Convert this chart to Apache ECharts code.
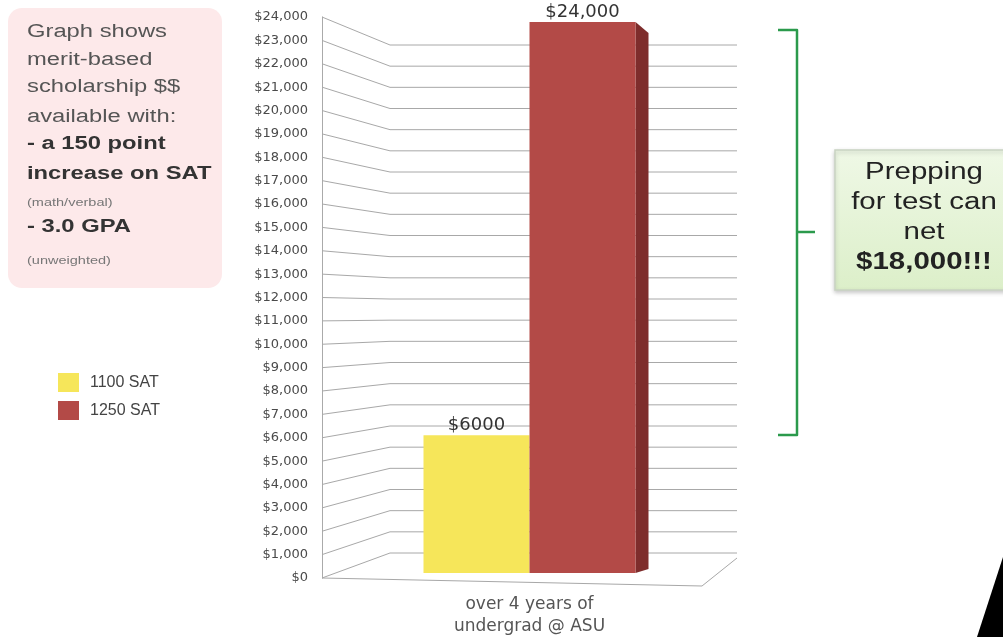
<!DOCTYPE html>
<html>
<head>
<meta charset="utf-8">
<script src="https://cdn.jsdelivr.net/npm/echarts@6/dist/echarts.min.js"></script>
<style>
html,body{margin:0;padding:0;background:#fff;}
#chart{width:1003px;height:637px;}
</style>
</head>
<body>
<div id="chart"></div>
<script>
// ---- data ----
const categories = ['over 4 years of\nundergrad @ ASU'];
const seriesNames = ['1100 SAT', '1250 SAT'];
const sat1100 = [6000];
const sat1250 = [24000];
const barLabels1100 = ['$6000'];
const barLabels1250 = ['$24,000'];
const yTicks = [0, 1000, 2000, 3000, 4000, 5000, 6000, 7000, 8000, 9000, 10000, 11000, 12000,
  13000, 14000, 15000, 16000, 17000, 18000, 19000, 20000, 21000, 22000, 23000, 24000];
const noteLines = [
  ['Graph shows', 'n'], ['merit-based', 'n'], ['scholarship $$', 'n'], ['available with:', 'n'],
  ['- a 150 point', 'b'], ['increase on SAT', 'b'], ['(math/verbal)', 's'], ['- 3.0 GPA', 'b'], ['(unweighted)', 's']
];
const calloutLines = ['Prepping', 'for test can', 'net', '$18,000!!!'];

// ---- styles ----
const YELLOW = '#f6e65a';
const RED = '#b34a47';
const RED_SIDE = '#7e2d2c';
const BAR_W = 106;
const SANS = '"Liberation Sans", Arial, sans-serif';
const WIDE = '"DejaVu Sans", sans-serif';

const chart = echarts.init(document.getElementById('chart'));

function backY(yF, cs) {
  // perspective back plane of the pseudo-3D chart
  const topB = cs.y + 28, botB = cs.y + cs.height - 25;
  return topB + (yF - cs.y) * (botB - topB) / cs.height;
}

const noteY = [32, 60, 87, 117, 144, 174, 203, 227, 261];
const noteGraphics = noteLines.map((l, i) => ({
  type: 'text', x: 27, y: noteY[i], scaleX: 1.32, z: 10,
  style: {
    text: l[0], textVerticalAlign: 'middle', textAlign: 'left',
    font: (l[1] === 'b' ? 'bold ' : '') + (l[1] === 's' ? '11px ' : '18px ') + SANS,
    fill: l[1] === 'b' ? '#333' : (l[1] === 's' ? '#777' : '#555')
  }
}));
const calloutY = [173, 203, 233, 263];
const calloutGraphics = calloutLines.map((t, i) => ({
  type: 'text', x: 924, y: calloutY[i], scaleX: 1.28, z: 10,
  style: {
    text: t, textVerticalAlign: 'middle', textAlign: 'center',
    font: (i === 3 ? 'bold ' : '') + '23px ' + SANS, fill: '#222'
  }
}));

const option = {
  animation: false,
  backgroundColor: '#fff',
  grid: [
    { left: 322, right: 266, top: 17, bottom: 59, containLabel: false, outerBoundsMode: 'none' },
    { left: 322, right: 266, top: 22, bottom: 64, containLabel: false, outerBoundsMode: 'none' }
  ],
  legend: {
    data: seriesNames, orient: 'vertical', left: 53, top: 368,
    itemWidth: 21, itemHeight: 19, itemGap: 9, icon: 'rect',
    textStyle: { fontSize: 16, color: '#444', fontFamily: SANS, padding: [0, 0, 0, 6] }
  },
  xAxis: [
    {
      type: 'category', data: categories, gridIndex: 0,
      axisLine: { show: false }, axisTick: { show: false },
      axisLabel: { fontSize: 17, color: '#555', fontFamily: WIDE, margin: 16, lineHeight: 22 }
    },
    {
      type: 'category', data: categories, gridIndex: 1, show: false
    }
  ],
  yAxis: [
    {
      type: 'value', min: 0, max: 24000, interval: 1000, gridIndex: 0,
      axisLine: { show: true, lineStyle: { color: '#aaa', width: 1 } },
      axisTick: { show: false },
      splitLine: { show: false },
      axisLabel: {
        fontSize: 13, color: '#4a4a4a', fontFamily: WIDE, margin: 14,
        formatter: v => '$' + v.toLocaleString('en-US')
      }
    },
    {
      type: 'value', min: 0, max: 24000, interval: 1000, gridIndex: 1, show: false,
      splitLine: { show: false }
    }
  ],
  graphic: [
    { type: 'rect', shape: { x: 8, y: 8, width: 214, height: 280, r: 14 },
      style: { fill: '#fde9ea' }, z: 5 },
    ...noteGraphics,
    { type: 'rect', shape: { x: 835, y: 150, width: 180, height: 140 },
      style: {
        fill: new echarts.graphic.LinearGradient(0, 0, 0, 1, [
          { offset: 0, color: '#eff8e6' }, { offset: 1, color: '#dcefc9' }]),
        stroke: '#c9d3c2', lineWidth: 1.5,
        shadowBlur: 4, shadowColor: 'rgba(0,0,0,0.2)', shadowOffsetY: 2
      }, z: 5 },
    ...calloutGraphics,
    { type: 'polyline', z: 5,
      shape: { points: [[778, 30], [797, 30], [797, 435], [778, 435]] },
      style: { stroke: '#2b9a4c', lineWidth: 2.5, fill: null, lineJoin: 'round' } },
    { type: 'line', z: 5, shape: { x1: 797, y1: 232, x2: 815, y2: 232 },
      style: { stroke: '#2b9a4c', lineWidth: 2.5 } },
    { type: 'polygon', z: 5, shape: { points: [[977, 637], [1003, 557], [1003, 637]] },
      style: { fill: '#000' } }
  ],
  series: [
    {
      type: 'custom', z: 1, silent: true, xAxisIndex: 0, yAxisIndex: 0,
      data: yTicks.map(v => [0, v]),
      renderItem: function (params, api) {
        const cs = params.coordSys;
        const p = api.coord([0, api.value(1)]);
        const yF = p[1];
        const yB = backY(yF, cs);
        const x0 = cs.x, xB = cs.x + 68, xE = cs.x + cs.width;
        const children = [{
          type: 'polyline',
          shape: { points: [[x0, yF], [xB, yB], [xE, yB]] },
          style: { stroke: '#a8a8a8', lineWidth: 1, fill: null }
        }];
        if (api.value(1) === 0) {
          children.push({
            type: 'polyline',
            shape: { points: [[x0, yF], [xE - 35, yF + 8], [xE, yB + 5]] },
            style: { stroke: '#a8a8a8', lineWidth: 1, fill: null }
          });
        }
        return { type: 'group', children: children };
      }
    },
    {
      name: seriesNames[0], type: 'bar', data: sat1100, barWidth: BAR_W, barGap: '0%',
      xAxisIndex: 1, yAxisIndex: 1,
      itemStyle: { color: YELLOW }, z: 3,
      label: { show: true, position: 'top', distance: 1, formatter: p => barLabels1100[p.dataIndex],
        fontSize: 18, color: '#333', fontFamily: WIDE }
    },
    {
      name: seriesNames[1], type: 'bar', data: sat1250, barWidth: BAR_W, barGap: '0%',
      xAxisIndex: 1, yAxisIndex: 1,
      itemStyle: { color: RED }, z: 3,
      label: { show: true, position: 'top', distance: 1, formatter: p => barLabels1250[p.dataIndex],
        fontSize: 18, color: '#333', fontFamily: WIDE }
    },
    {
      type: 'custom', z: 3, silent: true, xAxisIndex: 1, yAxisIndex: 1,
      data: sat1250.map(v => [0, v]),
      renderItem: function (params, api) {
        const top = api.coord([0, api.value(1)]);
        const bot = api.coord([0, 0]);
        const xR = top[0] + BAR_W;
        return {
          type: 'polygon',
          shape: { points: [[xR, top[1]], [xR + 13, top[1] + 11], [xR + 13, bot[1] - 4], [xR, bot[1]]] },
          style: { fill: RED_SIDE }
        };
      }
    }
  ]
};
chart.setOption(option);
</script>
</body>
</html>
